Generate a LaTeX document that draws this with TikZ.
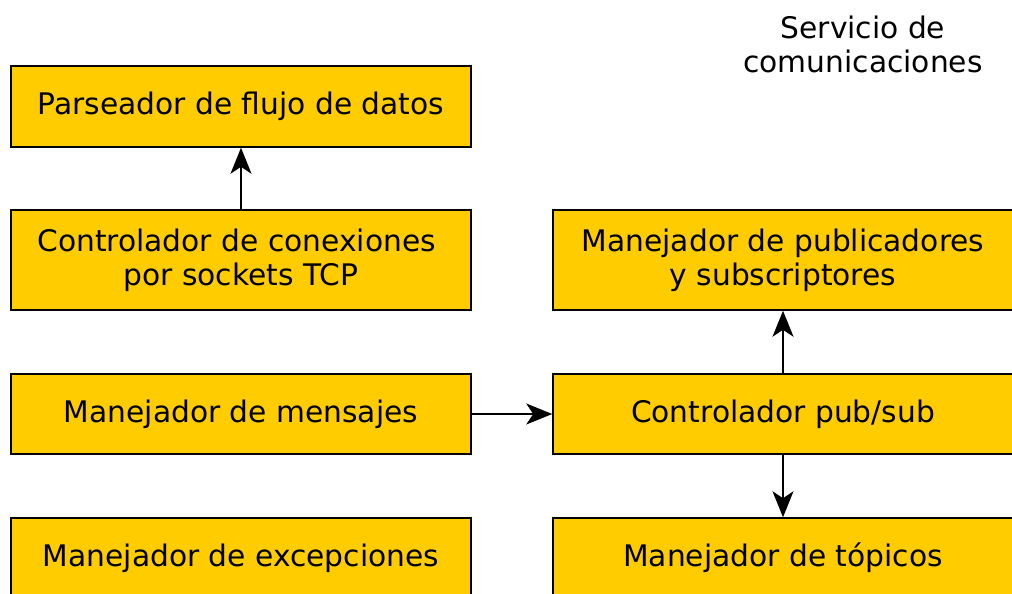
\documentclass[tikz,border=0pt]{standalone}
\usepackage{fontspec}
\setmainfont{DejaVu Sans}
\usetikzlibrary{arrows.meta}
\definecolor{amarillo}{HTML}{FFCC00}
\tikzset{
	caja/.style={draw=black,fill=amarillo,line width=1.5pt,minimum width=460pt,minimum height=80pt,align=center,inner sep=0pt},
	flecha/.style={line width=1.5pt,-{Stealth[length=26pt,width=21pt,inset=7pt]}}
}
\begin{document}
\begin{tikzpicture}[x=1pt,y=1pt,font=\fontsize{29.7}{34}\selectfont]
		\useasboundingbox (0,0) rectangle (1012,-594);
		\node[align=center] (titulo) at (863,-44) {Servicio de\\comunicaciones};
		
		\node[caja,minimum height=81pt] (parser) at (241,-106.5) {Parseador de flujo de datos};
		\node[caja,minimum height=100pt] (conex) at (241,-260) {Controlador de conexiones\kern9pt\\por sockets TCP};
		\node[caja] (mensajes) at (241,-414) {Manejador de mensajes};
		\node[caja] (excep) at (241,-558) {Manejador de excepciones};
		
		\node[caja,minimum height=100pt] (pubs) at (783,-260) {Manejador de publicadores\\y subscriptores};
		\node[caja] (pubsub) at (783,-414) {Controlador pub/sub};
		\node[caja] (topicos) at (783,-558) {Manejador de tópicos};
		
		\draw[flecha] (conex) -- (parser);
		\draw[flecha] (mensajes) -- (pubsub);
		\draw[flecha] (pubsub) -- (pubs);
		\draw[flecha] (pubsub) -- (topicos);
	\end{tikzpicture}
\end{document}
